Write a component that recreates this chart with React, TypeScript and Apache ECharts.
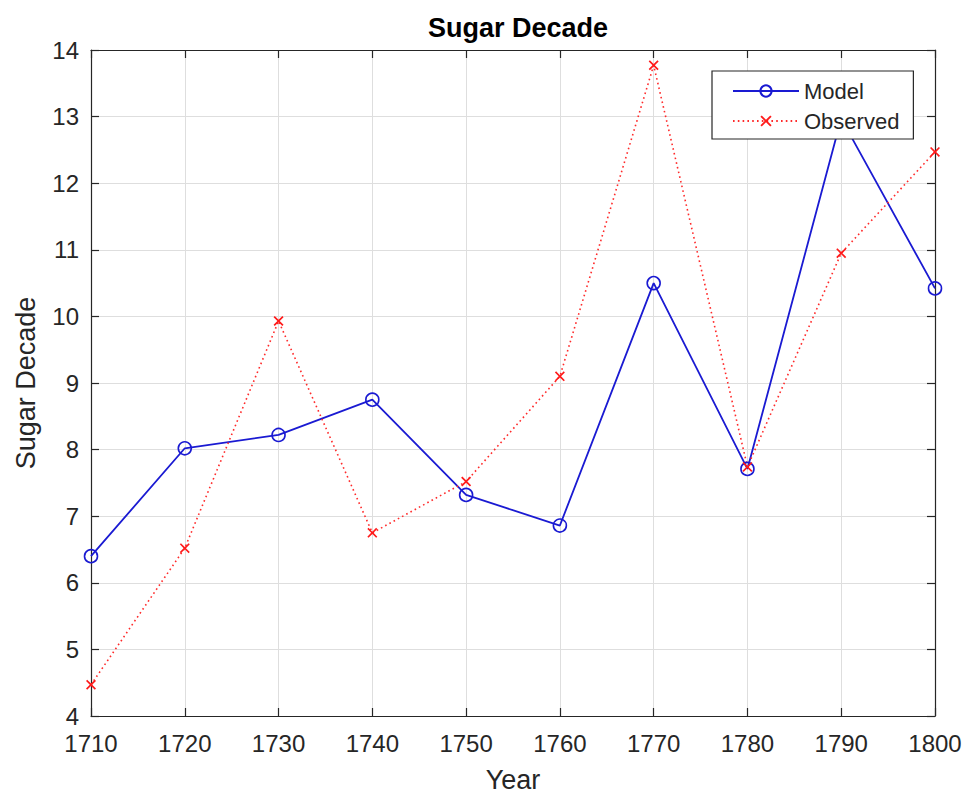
import React, { useEffect, useRef } from "react";
import * as echarts from "echarts";

// Decades on the x axis
const years: number[] = [1710, 1720, 1730, 1740, 1750, 1760, 1770, 1780, 1790, 1800];
// Model output per decade
const modelValues: number[] = [6.4, 8.02, 8.22, 8.75, 7.32, 6.86, 10.5, 7.71, 12.97, 10.42];
// Observed values per decade
const observedValues: number[] = [4.47, 6.52, 9.93, 6.75, 7.52, 9.1, 13.77, 7.74, 10.95, 12.47];

const xTicks = { min: 1710, max: 1800, interval: 10 };
const yTicks = { min: 4, max: 14, interval: 1 };

const AXIS_COLOR = "#262626";
const GRID_COLOR = "#dedede";
const FONT = "Liberation Sans, Arial, Helvetica, sans-serif";

// Filled "x" cross marker
const CROSS =
  "path://M0,1.2L1.2,0L5,3.8L8.8,0L10,1.2L6.2,5L10,8.8L8.8,10L5,6.2L1.2,10L0,8.8L3.8,5Z";

export default function App() {
  const ref = useRef<HTMLDivElement>(null);

  useEffect(() => {
    if (!ref.current) return;
    const chart = echarts.init(ref.current, null, { renderer: "svg" });

    const boxAxis = {
      axisLine: { show: true, lineStyle: { color: AXIS_COLOR, width: 1.2 } },
      axisTick: { show: true, inside: true, length: 8, lineStyle: { color: AXIS_COLOR, width: 1.2 } },
      axisLabel: { show: false },
      splitLine: { show: false },
    };

    chart.setOption({
      animation: false,
      backgroundColor: "#ffffff",
      title: {
        text: "Sugar Decade",
        left: 513,
        top: 9,
        textAlign: "center",
        textStyle: { fontFamily: FONT, fontSize: 27, fontWeight: "bold", color: "#000000" },
      },
      grid: { left: 91, right: 33, top: 50, bottom: 82, containLabel: false },
      legend: {
        orient: "vertical",
        left: 712,
        top: 71,
        padding: [8, 14, 6, 20],
        itemWidth: 66,
        itemHeight: 14,
        itemGap: 6,
        backgroundColor: "#ffffff",
        borderColor: AXIS_COLOR,
        borderWidth: 1.2,
        borderRadius: 0,
        textStyle: { fontFamily: FONT, fontSize: 22, color: AXIS_COLOR, lineHeight: 24 },
        data: ["Model", "Observed"],
      },
      xAxis: [
        {
          type: "value",
          position: "bottom",
          min: xTicks.min,
          max: xTicks.max,
          interval: xTicks.interval,
          name: "Year",
          nameLocation: "middle",
          nameGap: 50,
          nameTextStyle: { fontFamily: FONT, fontSize: 27, color: AXIS_COLOR },
          axisLine: { show: true, lineStyle: { color: AXIS_COLOR, width: 1.2 } },
          axisTick: { show: true, inside: true, length: 8, lineStyle: { color: AXIS_COLOR, width: 1.2 } },
          axisLabel: {
            fontFamily: FONT,
            fontSize: 24,
            color: AXIS_COLOR,
            margin: 15,
            formatter: (v: number) => String(v),
          },
          splitLine: { show: true, lineStyle: { color: GRID_COLOR, width: 1 } },
        },
        {
          type: "value",
          position: "top",
          min: xTicks.min,
          max: xTicks.max,
          interval: xTicks.interval,
          ...boxAxis,
        },
      ],
      yAxis: [
        {
          type: "value",
          position: "left",
          min: yTicks.min,
          max: yTicks.max,
          interval: yTicks.interval,
          name: "Sugar Decade",
          nameLocation: "middle",
          nameGap: 52,
          nameTextStyle: { fontFamily: FONT, fontSize: 27, color: AXIS_COLOR },
          axisLine: { show: true, lineStyle: { color: AXIS_COLOR, width: 1.2 } },
          axisTick: { show: true, inside: true, length: 8, lineStyle: { color: AXIS_COLOR, width: 1.2 } },
          axisLabel: { fontFamily: FONT, fontSize: 24, color: AXIS_COLOR, margin: 12 },
          splitLine: { show: true, lineStyle: { color: GRID_COLOR, width: 1 } },
        },
        {
          type: "value",
          position: "right",
          min: yTicks.min,
          max: yTicks.max,
          interval: yTicks.interval,
          ...boxAxis,
        },
      ],
      series: [
        {
          name: "Model",
          type: "line",
          xAxisIndex: 0,
          yAxisIndex: 0,
          data: years.map((y, i) => [y, modelValues[i]]),
          symbol: "circle",
          symbolSize: 13,
          showAllSymbol: true,
          lineStyle: { color: "#1a1ad2", width: 1.8 },
          itemStyle: { color: "rgba(0,0,0,0)", borderColor: "#1a1ad2", borderWidth: 1.6 },
          emphasis: { disabled: true },
        },
        {
          name: "Observed",
          type: "line",
          xAxisIndex: 0,
          yAxisIndex: 0,
          data: years.map((y, i) => [y, observedValues[i]]),
          symbol: CROSS,
          symbolSize: 10,
          showAllSymbol: true,
          lineStyle: { color: "#ff2a2a", width: 1.6, type: [1.6, 3.2] },
          itemStyle: { color: "#ff1a1a" },
          emphasis: { disabled: true },
        },
      ],
    });

    return () => chart.dispose();
  }, []);

  return (
    <div
      ref={ref}
      style={{ position: "fixed", left: 0, top: 0, width: 968, height: 798, background: "#ffffff" }}
    />
  );
}
